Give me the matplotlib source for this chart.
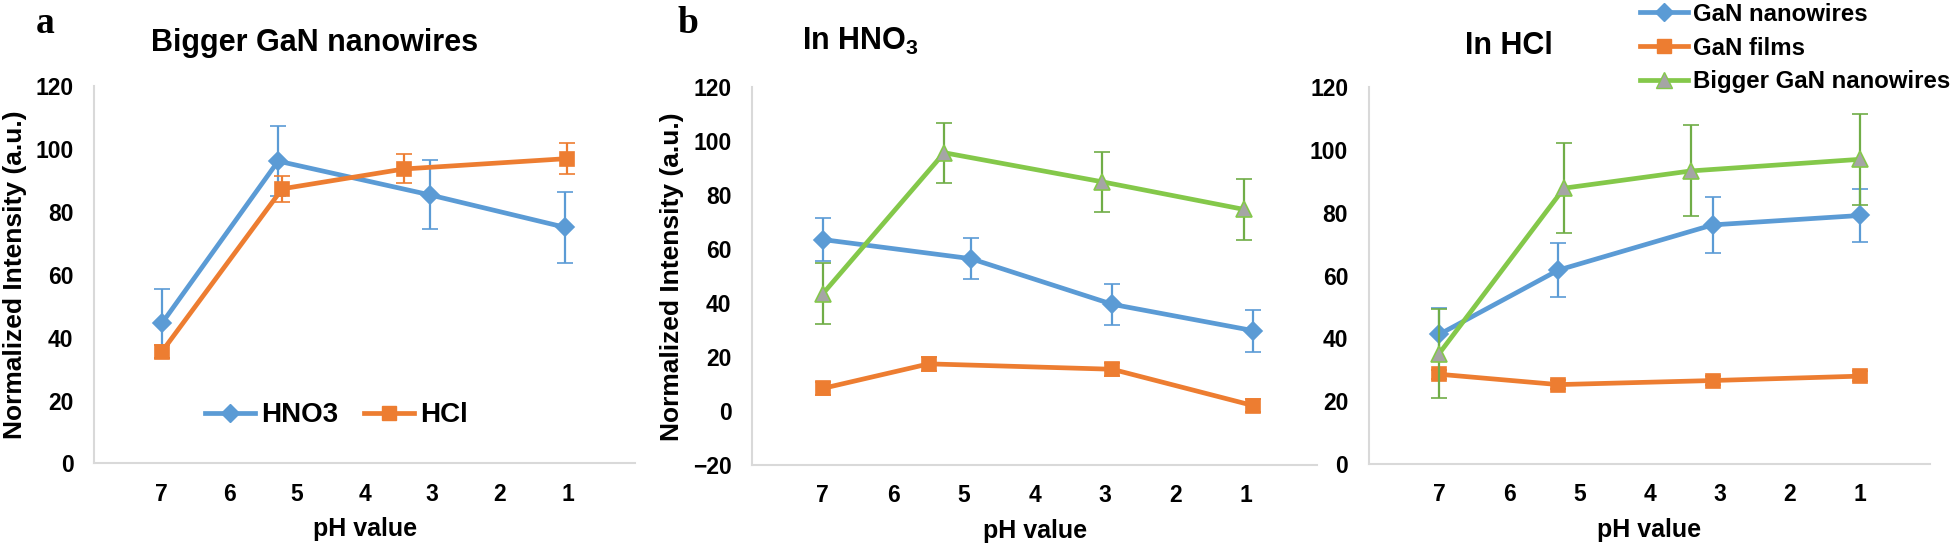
import matplotlib
matplotlib.use("Agg")
import matplotlib.pyplot as plt
from matplotlib.lines import Line2D

plt.rcParams["font.family"] = ["Liberation Sans", "DejaVu Sans"]
plt.rcParams["font.weight"] = "bold"
plt.rcParams["axes.labelweight"] = "bold"
plt.rcParams["mathtext.default"] = "regular"

BLUE = "#5B9BD5"
ORANGE = "#ED7D31"
GREEN = "#84C84A"
GREEN_ERR = "#70AD47"
GRAY = "#A5A5A5"
SPINE = "#D9D9D9"

# panel a: bigger GaN nanowires in HNO3 / HCl
a_hno3_ph = [7, 5.28, 3.04, 1.04]
a_hno3_val = [44.5, 96.0, 85.3, 75.0]
a_hno3_err = [11.0, 11.0, 11.0, 11.3]
a_hcl_ph = [7, 5.22, 3.42, 1.0]
a_hcl_val = [35.5, 87.2, 93.5, 96.8]
a_hcl_err = [2.0, 4.2, 4.6, 4.8]

# panel b: in HNO3
b_nw_ph = [7, 4.9, 2.9, 0.9]
b_nw_val = [63.6, 56.5, 39.6, 29.8]
b_nw_err = [8.0, 7.6, 7.6, 7.8]
b_film_ph = [7, 5.5, 2.9, 0.9]
b_film_val = [8.4, 17.5, 15.5, 2.0]
b_film_err = [2.5, 2.5, 2.5, 2.5]
b_big_ph = [7, 5.28, 3.04, 1.04]
b_big_val = [43.5, 95.8, 85.0, 74.8]
b_big_err = [11.3, 11.2, 11.2, 11.3]

# panel c: in HCl
c_nw_ph = [7, 5.3, 3.1, 1.0]
c_nw_val = [41.3, 61.8, 76.2, 79.2]
c_nw_err = [8.5, 8.6, 8.8, 8.6]
c_film_ph = [7, 5.3, 3.1, 1.0]
c_film_val = [28.6, 25.3, 26.6, 28.0]
c_film_err = [1.5, 1.5, 1.5, 1.5]
c_big_ph = [7, 5.22, 3.41, 1.0]
c_big_val = [35.2, 87.9, 93.4, 97.1]
c_big_err = [14.3, 14.4, 14.5, 14.5]

ph_ticks = [7, 6, 5, 4, 3, 2, 1]

fig = plt.figure(figsize=(19.6, 5.46), dpi=100)
ax_a = fig.add_axes([0.0481, 0.1511, 0.2759, 0.6923])
ax_b = fig.add_axes([0.3838, 0.1484, 0.2881, 0.6914])
ax_c = fig.add_axes([0.6985, 0.1502, 0.2862, 0.6896])


def style_axes(ax, ymin, ymax):
    ax.set_xlim(8, 0)
    ax.set_xticks(ph_ticks)
    ax.set_ylim(ymin, ymax)
    ax.set_yticks(range(ymin, ymax + 1, 20))
    for side in ["top", "right"]:
        ax.spines[side].set_visible(False)
    for side in ["left", "bottom"]:
        ax.spines[side].set_color(SPINE)
        ax.spines[side].set_linewidth(1.5)
    ax.tick_params(axis="both", length=0, labelsize=16.5)
    ax.tick_params(axis="y", pad=15)
    ax.tick_params(axis="x", pad=14)
    ax.set_xlabel("pH value", fontsize=18, labelpad=8)


def series(ax, x, y, err, color, marker, ms, ecolor=None, mfc=None, z=2):
    ax.errorbar(x, y, yerr=err, color=color, lw=3.4, marker=marker, ms=ms,
                mfc=mfc or color, mec=color, mew=1.2,
                ecolor=ecolor or color, elinewidth=1.6, capsize=6, capthick=1.6,
                zorder=z)


# panel a
style_axes(ax_a, 0, 120)
series(ax_a, a_hno3_ph, a_hno3_val, a_hno3_err, BLUE, "D", 9.5, z=2)
series(ax_a, a_hcl_ph, a_hcl_val, a_hcl_err, ORANGE, "s", 10.5, z=3)
ax_a.set_ylabel("Normalized Intensity (a.u.)", fontsize=19, labelpad=6)
handles_a = [
    Line2D([], [], color=BLUE, lw=3.4, marker="D", ms=9.5),
    Line2D([], [], color=ORANGE, lw=3.4, marker="s", ms=10.5),
]
ax_a.legend(handles_a, ["HNO3", "HCl"], loc="center", bbox_to_anchor=(0.448, 0.127),
            ncol=2, frameon=False, fontsize=20, handlelength=1.8,
            handletextpad=0.2, columnspacing=0.95)

# panel b
style_axes(ax_b, -20, 120)
series(ax_b, b_nw_ph, b_nw_val, b_nw_err, BLUE, "D", 9.5, z=2)
series(ax_b, b_film_ph, b_film_val, b_film_err, ORANGE, "s", 10.5, z=3)
series(ax_b, b_big_ph, b_big_val, b_big_err, GREEN, "^", 11, ecolor=GREEN_ERR, mfc=GRAY, z=4)
ax_b.set_ylabel("Normalized Intensity (a.u.)", fontsize=19, labelpad=6)

# panel c
style_axes(ax_c, 0, 120)
series(ax_c, c_nw_ph, c_nw_val, c_nw_err, BLUE, "D", 9.5, z=2)
series(ax_c, c_film_ph, c_film_val, c_film_err, ORANGE, "s", 10.5, z=3)
series(ax_c, c_big_ph, c_big_val, c_big_err, GREEN, "^", 11, ecolor=GREEN_ERR, mfc=GRAY, z=4)

handles_c = [
    Line2D([], [], color=BLUE, lw=3.4, marker="D", ms=9.5),
    Line2D([], [], color=ORANGE, lw=3.4, marker="s", ms=10.5),
    Line2D([], [], color=GREEN, lw=3.4, marker="^", ms=11, mfc=GRAY),
]
fig.legend(handles_c, ["GaN nanowires", "GaN films", "Bigger GaN nanowires"],
           loc="upper left", bbox_to_anchor=(1640 / 1960, 0.995), frameon=False,
           fontsize=17.3, handlelength=2.0, handletextpad=0.2, labelspacing=0.45,
           borderpad=0, borderaxespad=0)

# titles and panel letters
fig.text(315 / 1960, 1 - 50.7 / 546, "Bigger GaN nanowires", fontsize=22,
         ha="center", va="baseline")
fig.text(802 / 1960, 1 - 50 / 546, "In HNO$_3$", fontsize=22, ha="left", va="baseline")
fig.text(1465 / 1960, 1 - 53.5 / 546, "In HCl", fontsize=22, ha="left", va="baseline")
fig.text(45 / 1960, 1 - 33 / 546, "a", fontsize=27, ha="center", va="baseline",
         family="Liberation Serif")
fig.text(688 / 1960, 1 - 33 / 546, "b", fontsize=27, ha="center", va="baseline",
         family="Liberation Serif")

fig.savefig("out.png", dpi=100)
